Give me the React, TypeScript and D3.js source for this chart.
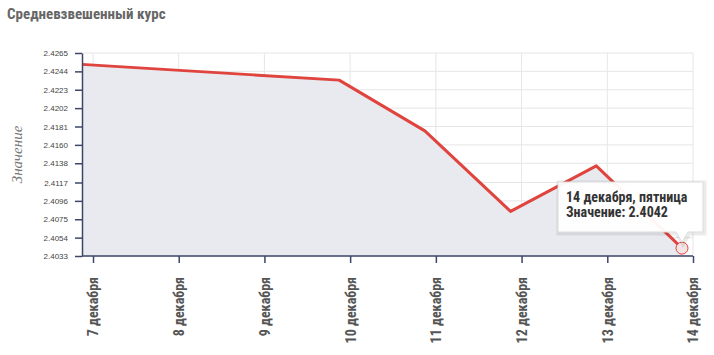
import { useEffect, useRef } from "react";
import * as d3 from "d3";

const days = [
  "7 декабря",
  "8 декабря",
  "9 декабря",
  "10 декабря",
  "11 декабря",
  "12 декабря",
  "13 декабря",
  "14 декабря",
];
const rates = [2.4252, 2.4246, 2.424, 2.4234, 2.4176, 2.4084, 2.4136, 2.4042];

const yTickValues = [
  2.4265, 2.4244, 2.4223, 2.4202, 2.4181, 2.416, 2.4139, 2.4117, 2.4096, 2.4075,
  2.4054, 2.4033,
];
const yTickLabels = [
  "2.4265", "2.4244", "2.4223", "2.4202", "2.4181", "2.4160", "2.4138", "2.4117",
  "2.4096", "2.4075", "2.4054", "2.4033",
];

const LINE = "#e0443e";
const AREA = "#e9eaef";
const AXIS = "#3d4668";
const GRID = "#e6e6e6";
const TEXT = "#555";
const NARROW = "'Roboto Condensed', 'Liberation Sans Narrow', 'DejaVu Sans Condensed', sans-serif";

export default function App() {
  const ref = useRef<SVGSVGElement>(null);

  useEffect(() => {
    if (!ref.current) return;
    const svg = d3.select(ref.current);
    svg.selectAll("*").remove();

    const left = 82;
    const top = 53;
    const bottom = 256;
    const right = 693;
    const tickShift = 11; // category ticks sit a little right of the points

    const x = d3.scalePoint<string>().domain(days).range([left, right - tickShift]);
    const y = d3.scaleLinear().domain([2.4033, 2.4265]).range([bottom, top]);

    // title
    svg
      .append("text")
      .attr("x", 7)
      .attr("y", 19)
      .attr("font-family", NARROW)
      .attr("font-weight", "bold")
      .attr("font-size", "15px")
      .attr("fill", "#666")
      .text("Средневзвешенный курс");

    // grid
    svg
      .append("g")
      .selectAll("line")
      .data(yTickValues)
      .join("line")
      .attr("x1", left)
      .attr("x2", right)
      .attr("y1", (d) => y(d))
      .attr("y2", (d) => y(d))
      .attr("stroke", GRID);

    svg
      .append("g")
      .selectAll("line")
      .data(days)
      .join("line")
      .attr("x1", (d) => x(d)! + tickShift)
      .attr("x2", (d) => x(d)! + tickShift)
      .attr("y1", top)
      .attr("y2", bottom)
      .attr("stroke", GRID);

    // area + line
    const pts = days.map((d, i) => ({ day: d, v: rates[i] }));
    const area = d3
      .area<{ day: string; v: number }>()
      .x((d) => x(d.day)!)
      .y0(bottom)
      .y1((d) => y(d.v));
    svg.append("path").datum(pts).attr("fill", AREA).attr("d", area);

    const line = d3
      .line<{ day: string; v: number }>()
      .x((d) => x(d.day)!)
      .y((d) => y(d.v));
    svg
      .append("path")
      .datum(pts)
      .attr("fill", "none")
      .attr("stroke", LINE)
      .attr("stroke-width", 3)
      .attr("stroke-linejoin", "round")
      .attr("d", line);

    // y axis
    const yAxis = svg.append("g").attr("transform", `translate(${left},0)`);
    yAxis
      .call(
        d3
          .axisLeft(y)
          .tickValues(yTickValues)
          .tickFormat((_, i) => yTickLabels[i])
          .tickSize(7)
          .tickSizeOuter(0)
          .tickPadding(7),
      )
      .call((g) => g.select(".domain").attr("stroke", AXIS).attr("stroke-width", 1.5))
      .call((g) => g.selectAll(".tick line").attr("stroke", AXIS).attr("stroke-width", 1.5))
      .selectAll("text")
      .attr("font-family", "'Liberation Sans', Arial, sans-serif")
      .attr("font-size", "8px")
      .attr("fill", "#444");

    // x axis
    const xAxis = svg.append("g").attr("transform", `translate(0,${bottom})`);
    xAxis
      .call(
        d3
          .axisBottom(d3.scalePoint<string>().domain(days).range([left + tickShift, right]))
          .tickSize(7)
          .tickSizeOuter(0),
      )
      .call((g) =>
        g
          .select(".domain")
          .attr("d", `M${left},0H${right}`)
          .attr("stroke", AXIS)
          .attr("stroke-width", 1.5),
      )
      .call((g) => g.selectAll(".tick line").attr("stroke", AXIS).attr("stroke-width", 1.5))
      .selectAll("text")
      .attr("transform", "rotate(-90)")
      .attr("x", -21)
      .attr("y", 0)
      .attr("dy", "0.35em")
      .attr("text-anchor", "end")
      .attr("font-family", NARROW)
      .attr("font-weight", "bold")
      .attr("font-size", "14px")
      .attr("fill", TEXT);

    // y title
    svg
      .append("text")
      .attr("transform", `translate(22,${(top + bottom) / 2}) rotate(-90)`)
      .attr("text-anchor", "middle")
      .attr("font-family", "serif")
      .attr("font-style", "italic")
      .attr("font-size", "15px")
      .attr("fill", "#777")
      .text("Значение");

    // hover marker + tooltip on the last point
    const last = pts[pts.length - 1];
    const px = x(last.day)!;
    const py = y(last.v);
    svg
      .append("circle")
      .attr("cx", px)
      .attr("cy", py)
      .attr("r", 6)
      .attr("fill", "#f4e4e4")
      .attr("stroke", LINE)
      .attr("stroke-width", 1);

    const tip = svg.append("g");
    const bx = 558;
    const by = 182;
    const bw = 145;
    const bh = 50;
    const tipPath = `M${bx},${by}H${bx + bw}V${by + bh}H${px + 6}L${px},${py - 6}L${px - 6},${by + bh}H${bx}Z`;
    tip
      .append("path")
      .attr("d", tipPath)
      .attr("fill", "none")
      .attr("stroke", "rgba(0,0,0,0.08)")
      .attr("stroke-width", 5)
      .attr("transform", "translate(1,1)");
    tip
      .append("path")
      .attr("d", tipPath)
      .attr("fill", "rgba(255,255,255,0.95)")
      .attr("stroke", "#ddd")
      .attr("stroke-width", 1);
    tip
      .append("text")
      .attr("x", bx + 8)
      .attr("y", by + 20)
      .attr("font-family", NARROW)
      .attr("font-weight", "bold")
      .attr("font-size", "14px")
      .attr("fill", "#333")
      .text(`${last.day}, пятница`);
    tip
      .append("text")
      .attr("x", bx + 8)
      .attr("y", by + 35)
      .attr("font-family", NARROW)
      .attr("font-weight", "bold")
      .attr("font-size", "14px")
      .attr("fill", "#333")
      .text(`Значение: ${last.v.toFixed(4)}`);
  }, []);

  return (
    <svg
      ref={ref}
      width={714}
      height={355}
      style={{ position: "absolute", left: 0, top: 0, background: "#fff" }}
    />
  );
}
